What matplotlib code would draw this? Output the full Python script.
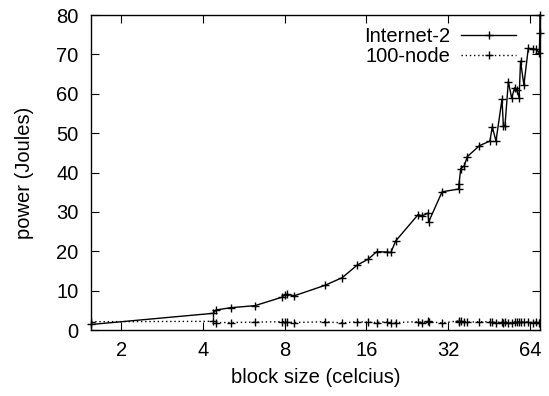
import matplotlib
matplotlib.use("Agg")
import matplotlib.pyplot as plt
from matplotlib.ticker import FixedLocator, FixedFormatter, NullLocator

plt.rcParams['font.family'] = ['Liberation Sans', 'DejaVu Sans']

block_size = [1.55, 4.37, 4.47, 5.07, 6.22, 7.80, 8.0, 8.15, 8.69, 11.27, 13.04,
              14.81, 16.26, 17.46, 19.0, 19.7, 20.5, 24.8, 25.7, 27.0, 27.1,
              30.4, 34.96, 35.1, 35.6, 36.7, 37.6, 41.7, 45.6, 46.5, 48.0,
              50.5, 51.1, 51.8, 53.3, 54.8, 56.2, 57.2, 58.4, 59.1, 60.8,
              63.1, 65.5, 67.3, 69.3, 69.6, 69.7]
internet2 = [1.4, 4.24, 5.08, 5.67, 6.18, 8.3, 8.9, 9.06, 8.7, 11.35, 13.3,
             16.5, 18.0, 19.9, 19.8, 19.7, 22.6, 29.3, 29.0, 29.7, 27.4,
             35.1, 35.8, 37.2, 41.0, 41.7, 44.0, 46.8, 48.0, 51.6, 48.0,
             58.6, 51.9, 51.9, 63.1, 58.9, 61.5, 61.0, 59.0, 68.3, 62.2,
             71.5, 71.4, 71.3, 70.4, 75.5, 80.0]
node100 = [2.1, 2.2, 1.9, 1.9, 2.0, 2.1, 2.1, 2.0, 1.9, 2.1, 1.8,
           2.1, 2.0, 1.9, 2.1, 1.9, 1.9, 2.1, 1.9, 2.2, 2.1,
           1.8, 2.3, 2.1, 2.2, 2.0, 2.0, 2.1, 2.1, 2.0, 1.9,
           2.1, 1.9, 2.0, 1.9, 1.9, 2.0, 2.1, 2.0, 2.1, 2.0,
           2.1, 1.9, 2.0, 1.9, 2.0, 1.9]

x_ticks = [2, 4, 8, 16, 32, 64]
x_tick_labels = ["2", "4", "8", "16", "32", "64"]
y_ticks = [0, 10, 20, 30, 40, 50, 60, 70, 80]

FS = 14.5

fig = plt.figure(figsize=(5.49, 3.96), dpi=100)
ax = fig.add_axes([91/549, 1-330/396, (540-91)/549, (330-15)/396])

ax.plot(block_size, internet2, color='black', lw=1.0, marker='+', ms=6,
        mew=1.0, label='Internet-2', clip_on=False)
ax.plot(block_size, node100, color='black', lw=1.0, ls=(0, (1, 2)),
        marker='+', ms=6, mew=1.0, label='100-node')

ax.set_xscale('log', base=2)
ax.set_xlim(min(block_size), max(block_size))
ax.set_ylim(0, 80)
ax.xaxis.set_major_locator(FixedLocator(x_ticks))
ax.xaxis.set_major_formatter(FixedFormatter(x_tick_labels))
ax.xaxis.set_minor_locator(NullLocator())
ax.set_yticks(y_ticks)

ax.tick_params(axis='both', which='major', direction='in', length=6,
               width=0.8, labelsize=FS, top=True, right=True)
ax.tick_params(axis='x', pad=8)
ax.tick_params(axis='y', pad=9)
for s in ax.spines.values():
    s.set_linewidth(1.0)

ax.set_xlabel('block size (celcius)', fontsize=FS, labelpad=6)
ax.set_ylabel('power (Joules)', fontsize=FS, labelpad=16)

leg = ax.legend(loc='upper right', frameon=False, fontsize=FS,
                markerfirst=False, handlelength=2.7, handletextpad=0.55,
                borderaxespad=0.0, borderpad=0.2, labelspacing=0.05,
                bbox_to_anchor=(0.955, 0.975))
for t in leg.get_texts():
    t.set_ha('right')

fig.savefig('out.png', dpi=100)
